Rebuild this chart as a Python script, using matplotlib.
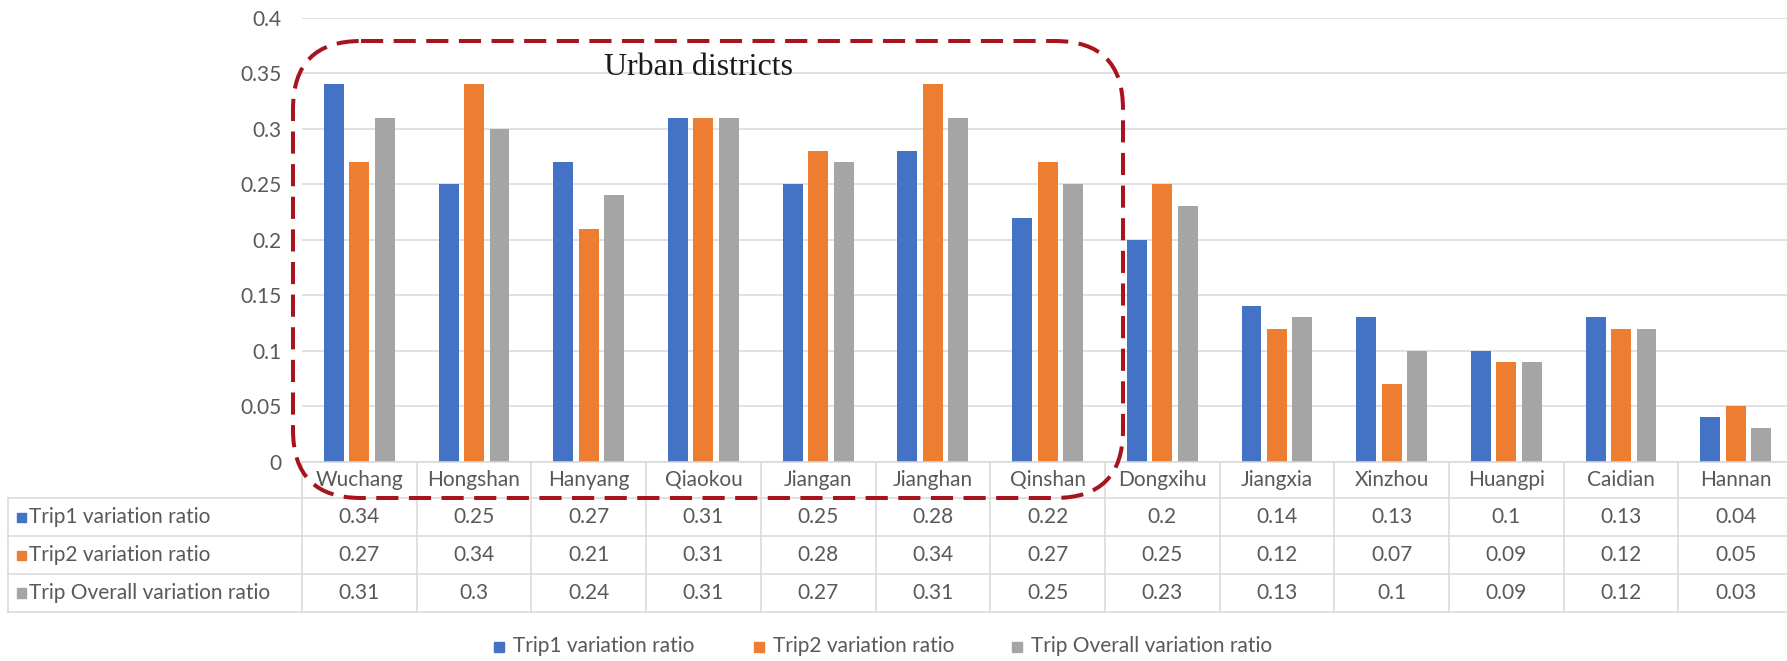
import matplotlib.pyplot as plt
import numpy as np
from matplotlib.patches import FancyBboxPatch, Rectangle
from matplotlib.transforms import Affine2D, blended_transform_factory

districts = ['Wuchang', 'Hongshan', 'Hanyang', 'Qiaokou', 'Jiangan', 'Jianghan', 'Qinshan',
             'Dongxihu', 'Jiangxia', 'Xinzhou', 'Huangpi', 'Caidian', 'Hannan']
trip1 = [0.34, 0.25, 0.27, 0.31, 0.25, 0.28, 0.22, 0.2, 0.14, 0.13, 0.1, 0.13, 0.04]
trip2 = [0.27, 0.34, 0.21, 0.31, 0.28, 0.34, 0.27, 0.25, 0.12, 0.07, 0.09, 0.12, 0.05]
overall = [0.31, 0.3, 0.24, 0.31, 0.27, 0.31, 0.25, 0.23, 0.13, 0.1, 0.09, 0.12, 0.03]
series_names = ['Trip1 variation ratio', 'Trip2 variation ratio', 'Trip Overall variation ratio']
yticks = [0, 0.05, 0.1, 0.15, 0.2, 0.25, 0.3, 0.35, 0.4]
box_label = 'Urban districts'

colors = ['#4472C4', '#ED7D31', '#A5A5A5']
text_color = '#595959'
line_color = '#D9D9D9'
font = 'Lato'
fs = 15

W, H = 1787, 661


def main():
    fig = plt.figure(figsize=(W / 100, H / 100), dpi=100)
    # pixel coordinates measured from the top-left corner
    pix = Affine2D().scale(1, -1).translate(0, H)

    plot_left, plot_top, plot_bottom, col_w = 302, 17.7, 461.7, 114.7
    n = len(districts)
    ax = fig.add_axes([plot_left / W, (H - plot_bottom) / H,
                       n * col_w / W, (plot_bottom - plot_top) / H])

    x = np.arange(n)
    width, step = 0.174, 0.222
    for i, (vals, c) in enumerate(zip([trip1, trip2, overall], colors)):
        ax.bar(x + (i - 1) * step, vals, width=width, color=c, zorder=3)

    ax.set_xlim(-0.5, n - 0.5)
    ax.set_ylim(0, 0.4)
    ax.set_yticks(yticks)
    ax.set_yticklabels([f'{t:g}' for t in yticks], fontsize=fs, color=text_color, family=font)
    ax.tick_params(axis='y', length=0, pad=15)
    ax.set_xticks([])
    for s in ax.spines.values():
        s.set_visible(False)
    ax.grid(axis='y', color=line_color, linewidth=1.1, zorder=0)

    # data table below the plot
    rows_y = [461.7, 498.3, 536, 574, 611.7]
    table_left = 8
    mix = blended_transform_factory(ax.transData, pix)
    lw = 1.1
    fig.add_artist(plt.Line2D([-0.5, n - 0.5], [rows_y[0]] * 2, transform=mix,
                              color=line_color, lw=lw, clip_on=False))
    for yy in rows_y[1:]:
        fig.add_artist(plt.Line2D([table_left, W + 10], [yy] * 2, transform=pix,
                                  color=line_color, lw=lw))
    fig.add_artist(plt.Line2D([table_left] * 2, [rows_y[1], rows_y[-1]], transform=pix,
                              color=line_color, lw=lw))
    for k in range(n + 1):
        fig.add_artist(plt.Line2D([k - 0.5] * 2, [rows_y[0], rows_y[-1]], transform=mix,
                                  color=line_color, lw=lw))

    for k, name in enumerate(districts):
        fig.text(k, (rows_y[0] + rows_y[1]) / 2, name, transform=mix, ha='center',
                 va='center', fontsize=fs, color=text_color, family=font)

    for r, (vals, c, label) in enumerate(zip([trip1, trip2, overall], colors, series_names)):
        yc = (rows_y[r + 1] + rows_y[r + 2]) / 2
        fig.add_artist(Rectangle((table_left + 9, yc - 4.5), 8.5, 9.5, transform=pix, color=c))
        fig.text(table_left + 21, yc, label, transform=pix, ha='left', va='center',
                 fontsize=fs, color=text_color, family=font)
        for k, v in enumerate(vals):
            fig.text(k, yc, f'{v:g}', transform=mix, ha='center', va='center',
                     fontsize=fs, color=text_color, family=font)

    # legend along the bottom
    leg_x = [494, 754, 1012]
    for lx, c, label in zip(leg_x, colors, series_names):
        fig.add_artist(Rectangle((lx, 641.5), 10, 10, transform=pix, color=c))
        fig.text(lx + 19, 646.5, label, transform=pix, ha='left', va='center',
                 fontsize=fs, color=text_color, family=font)

    # dashed outline around the urban districts
    box = FancyBboxPatch((293, 41), 830, 457, boxstyle='round,pad=0,rounding_size=68',
                         transform=pix, fill=False, edgecolor='#A8141E', linewidth=2.9,
                         linestyle=(0, (5.5, 2.6)), zorder=5)
    fig.add_artist(box)
    ax.text(2.96, 0.3485, box_label, ha='center', va='baseline', fontsize=23,
            family='Liberation Serif', color='#1A1A1A', zorder=6)

    fig.savefig('out.png', dpi=100)


if __name__ == '__main__':
    main()
